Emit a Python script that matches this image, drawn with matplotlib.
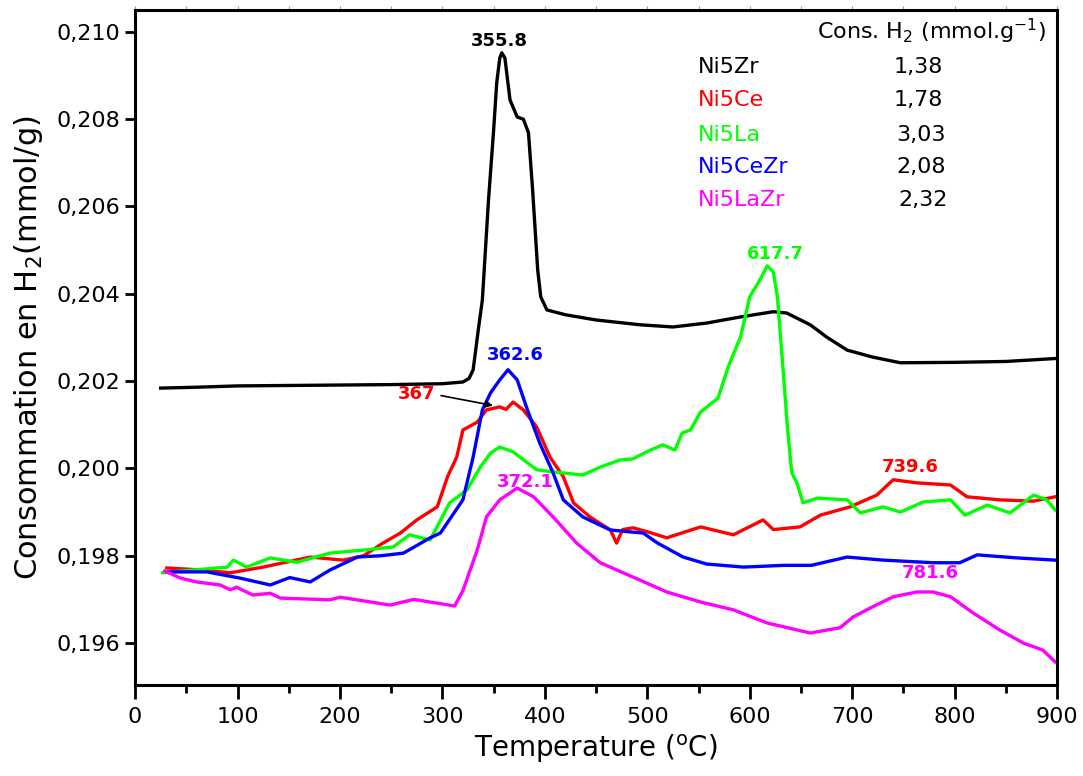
import matplotlib
matplotlib.use("Agg")
import matplotlib.pyplot as plt
from matplotlib.ticker import MultipleLocator, FuncFormatter

# ── TPR profiles (Temperature °C, H2 consumption) ──
t_zr = [25, 60, 100, 150, 200, 250, 300, 320, 326, 330, 335, 339, 345, 350, 353, 356,
        358, 361, 366, 373, 379, 384, 388, 393, 396, 402, 420, 450, 493, 525, 558, 591,
        623, 636, 659, 675, 695, 720, 747, 800, 850, 900]
y_zr = [0.20184, 0.20186, 0.20189, 0.20190, 0.20191, 0.20192, 0.20194, 0.20198, 0.20206,
        0.20226, 0.20317, 0.20386, 0.20615, 0.20775, 0.20883, 0.20940, 0.20952, 0.20940,
        0.20844, 0.20805, 0.20800, 0.20769, 0.20640, 0.20455, 0.20393, 0.20363, 0.20352,
        0.20340, 0.20329, 0.20324, 0.20333, 0.20347, 0.20359, 0.20356, 0.20329, 0.20301,
        0.20271, 0.20255, 0.20242, 0.20243, 0.20245, 0.20252]

t_ce = [31, 60, 93, 125, 171, 203, 223, 242, 259, 275, 295, 305, 314, 320, 334, 343, 356,
        362, 369, 379, 392, 405, 418, 428, 444, 464, 470, 476, 486, 500, 519, 552, 584,
        613, 623, 649, 669, 698, 724, 740, 763, 796, 812, 844, 877, 898]
y_ce = [0.19772, 0.19768, 0.19761, 0.19774, 0.19797, 0.19790, 0.19800, 0.19829, 0.19852,
        0.19882, 0.19912, 0.19981, 0.20026, 0.20088, 0.20106, 0.20134, 0.20141, 0.20135,
        0.20152, 0.20134, 0.20095, 0.20026, 0.19981, 0.19921, 0.19889, 0.19859, 0.19829,
        0.19860, 0.19864, 0.19855, 0.19841, 0.19866, 0.19848, 0.19882, 0.19860, 0.19866,
        0.19893, 0.19912, 0.19939, 0.19974, 0.19967, 0.19962, 0.19935, 0.19928, 0.19925,
        0.19935]

t_la = [27, 60, 90, 96, 109, 132, 158, 190, 223, 252, 268, 288, 307, 324, 337, 347, 356,
        369, 383, 392, 408, 437, 454, 473, 486, 503, 515, 527, 534, 542, 552, 569, 579,
        591, 600, 610, 617, 623, 627, 632, 637, 641, 646, 652, 666, 695, 708, 730, 747,
        769, 796, 810, 832, 854, 877, 890, 898]
y_la = [0.19761, 0.19768, 0.19774, 0.19790, 0.19774, 0.19795, 0.19785, 0.19806, 0.19813,
        0.19820, 0.19848, 0.19836, 0.19921, 0.19951, 0.20003, 0.20035, 0.20049, 0.20038,
        0.20013, 0.19997, 0.19992, 0.19985, 0.20003, 0.20019, 0.20022, 0.20042, 0.20054,
        0.20042, 0.20081, 0.20088, 0.20129, 0.20161, 0.20233, 0.20301, 0.20393, 0.20432,
        0.20464, 0.20450, 0.20393, 0.20242, 0.20088, 0.19990, 0.19967, 0.19921, 0.19932,
        0.19928, 0.19898, 0.19912, 0.19900, 0.19923, 0.19928, 0.19893, 0.19916, 0.19898,
        0.19939, 0.19928, 0.19905]

t_cezr = [31, 70, 102, 132, 151, 171, 190, 217, 240, 262, 288, 298, 320, 330, 339, 347,
          356, 364, 373, 383, 395, 408, 418, 437, 454, 464, 486, 496, 510, 535, 558, 594,
          633, 660, 695, 730, 779, 805, 822, 861, 898]
y_cezr = [0.19763, 0.19763, 0.19749, 0.19733, 0.19750, 0.19740, 0.19767, 0.19797, 0.19800,
          0.19806, 0.19841, 0.19852, 0.19928, 0.20026, 0.20134, 0.20173, 0.20203, 0.20226,
          0.20203, 0.20134, 0.20058, 0.19990, 0.19928, 0.19889, 0.19870, 0.19859, 0.19854,
          0.19852, 0.19829, 0.19797, 0.19781, 0.19774, 0.19778, 0.19778, 0.19797, 0.19790,
          0.19784, 0.19784, 0.19802, 0.19795, 0.19790]

t_lazr = [29, 44, 60, 83, 93, 99, 115, 132, 142, 190, 200, 249, 272, 288, 312, 320, 334,
          343, 356, 373, 389, 408, 431, 454, 493, 519, 552, 584, 617, 659, 688, 701, 720,
          740, 763, 779, 796, 818, 844, 867, 886, 898]
y_lazr = [0.19765, 0.19749, 0.19740, 0.19733, 0.19722, 0.19728, 0.19710, 0.19714, 0.19703,
          0.19699, 0.19705, 0.19687, 0.19700, 0.19694, 0.19685, 0.19720, 0.19813, 0.19889,
          0.19928, 0.19955, 0.19935, 0.19889, 0.19829, 0.19784, 0.19744, 0.19717, 0.19694,
          0.19676, 0.19646, 0.19623, 0.19635, 0.19660, 0.19683, 0.19706, 0.19717, 0.19717,
          0.19706, 0.19669, 0.19630, 0.19600, 0.19584, 0.19557]

samples = ["Ni5Zr", "Ni5Ce", "Ni5La", "Ni5CeZr", "Ni5LaZr"]
h2_cons = ["1,38", "1,78", "3,03", "2,08", "2,32"]
colors  = ["#000000", "#FF0000", "#00FF00", "#0000FF", "#FF00FF"]

# peak labels: (text, x, y, colour index)
peak_labels = [("355.8", 356, 0.20979, 0), ("362.6", 371, 0.20260, 3),
               ("367", 275, 0.20171, 1), ("372.1", 381, 0.19969, 4),
               ("617.7", 625, 0.20491, 2), ("739.6", 757, 0.20003, 1),
               ("781.6", 776, 0.19761, 4)]

plt.rcParams["font.family"] = ["DejaVu Sans"]

fig = plt.figure(figsize=(10.83, 7.76), dpi=100)
ax = fig.add_axes([0.1247, 0.1173, 0.8514, 0.8698])

series = [(t_zr, y_zr), (t_ce, y_ce), (t_la, y_la), (t_cezr, y_cezr), (t_lazr, y_lazr)]
for (t, y), c in zip(series, colors):
    ax.plot(t, y, color=c, lw=2.4, solid_joinstyle="round")

for txt, x, y, ci in peak_labels:
    ax.text(x, y, txt, color=colors[ci], fontsize=13, fontweight="bold",
            ha="center", va="center")

# arrow for the Ni5Ce 367 peak
ax.annotate("", xy=(352, 0.20143), xytext=(296, 0.20168),
            arrowprops=dict(arrowstyle="-|>", color="black", lw=1.2, mutation_scale=10))

# H2 consumption table
ax.text(666, 0.21002, r"Cons. H$_2$ (mmol.g$^{-1}$)", fontsize=16, ha="left", va="center")
row_y = [0.20920, 0.20844, 0.20764, 0.20691, 0.20615]
val_x = [740, 740, 743, 743, 745]
for name, val, c, ry, vx in zip(samples, h2_cons, colors, row_y, val_x):
    ax.text(549, ry, name, color=c, fontsize=16, ha="left", va="center")
    ax.text(vx, ry, val, color="black", fontsize=16, ha="left", va="center")

ax.set_xlim(0, 900)
ax.set_ylim(0.19504, 0.2105)
ax.xaxis.set_major_locator(MultipleLocator(100))
ax.xaxis.set_minor_locator(MultipleLocator(50))
ax.yaxis.set_major_locator(MultipleLocator(0.002))
ax.yaxis.set_major_formatter(FuncFormatter(lambda v, p: f"{v:.3f}".replace(".", ",")))

ax.tick_params(axis="x", which="major", direction="out", length=10, width=2,
               labelsize=16, pad=6, top=False)
ax.tick_params(axis="x", which="minor", direction="out", length=6, width=2, top=False)
ax.tick_params(axis="y", which="major", direction="out", length=7, width=2, labelsize=16)

# faint tick marks along the top frame
top = ax.secondary_xaxis("top")
top.xaxis.set_major_locator(MultipleLocator(50))
top.tick_params(direction="out", length=3, width=0.8, color="#999999", labeltop=False)
top.spines["top"].set_visible(False)

for s in ax.spines.values():
    s.set_linewidth(2.2)

ax.set_xlabel(r"Temperature ($^{\rm o}$C)", fontsize=20, labelpad=4)
ax.set_ylabel(r"Consommation en H$_2$(mmol/g)", fontsize=22, labelpad=8)

fig.savefig("out.png", dpi=100)
